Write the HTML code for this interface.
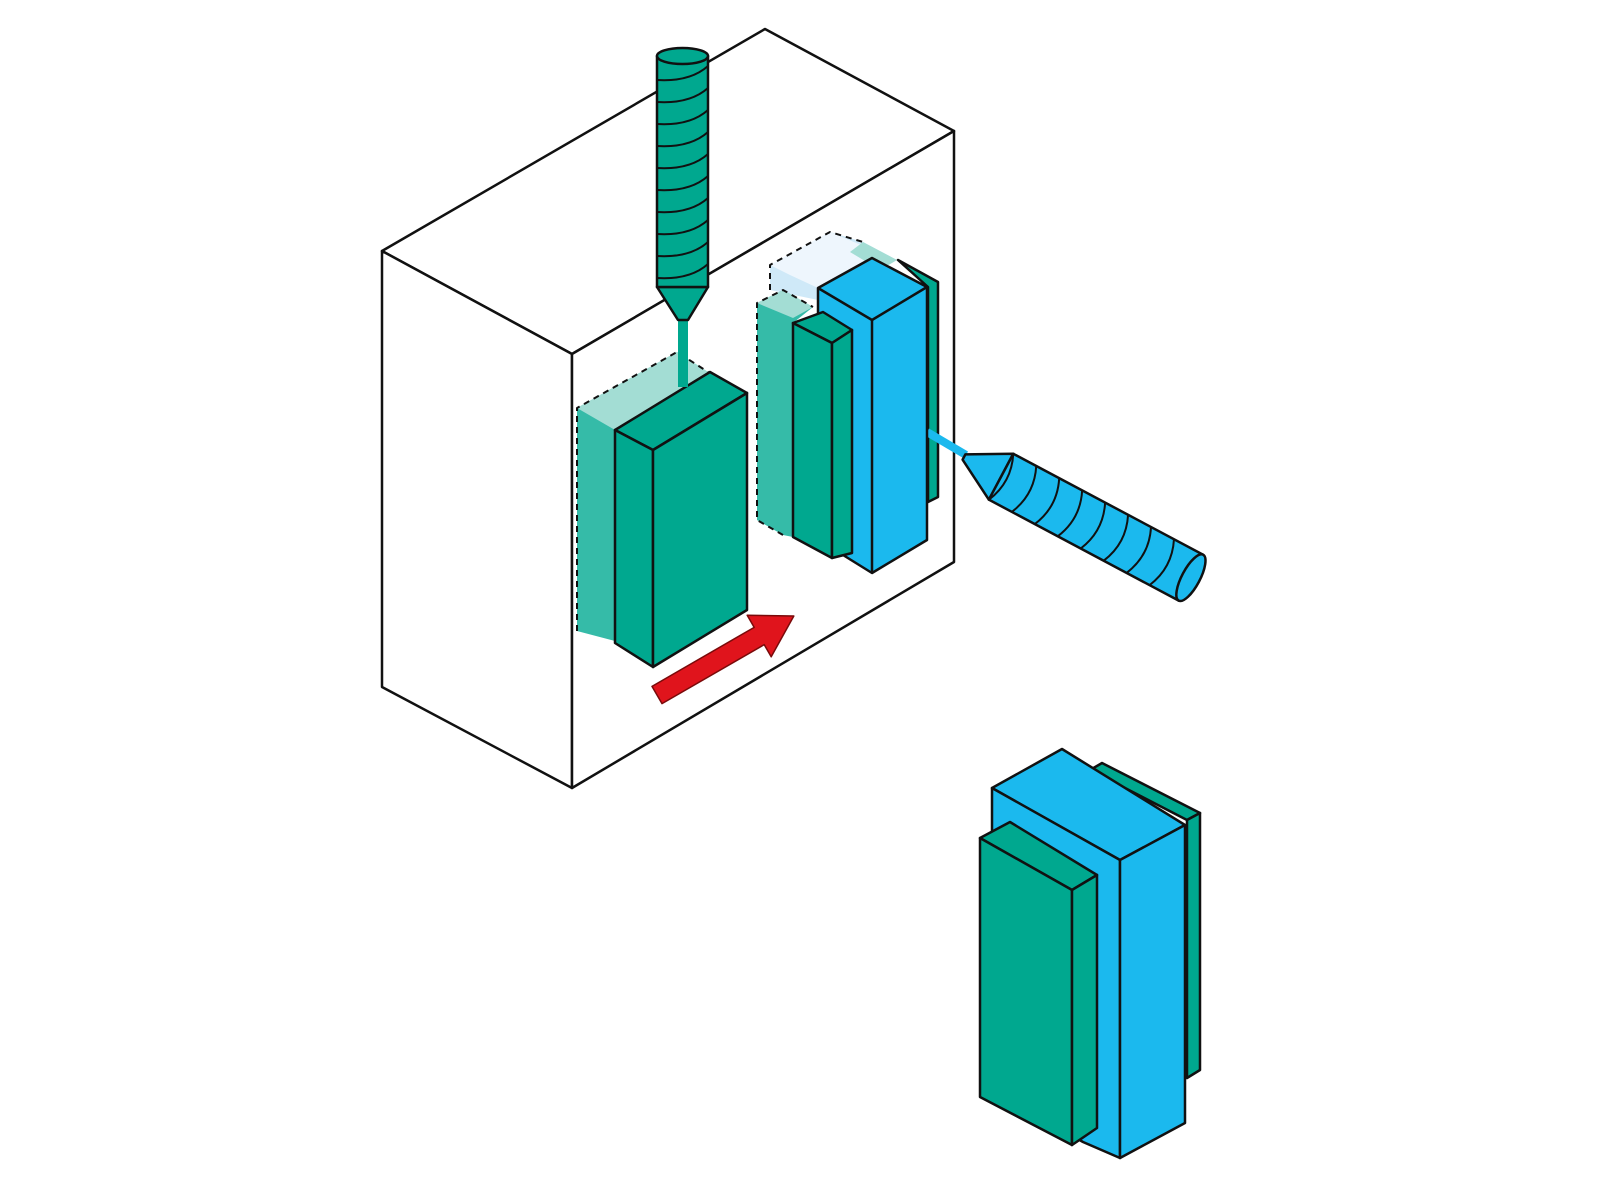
<!DOCTYPE html>
<html><head><meta charset="utf-8"><style>html,body{margin:0;padding:0;background:#fff}svg{display:block}</style></head>
<body>
<svg width="1600" height="1200" viewBox="0 0 1600 1200" xmlns="http://www.w3.org/2000/svg" stroke="#111" stroke-width="2.5" stroke-linejoin="round">
<polygon points="382,251 765,29 954,131 572,354" fill="#fff"/>
<polygon points="382,251 572,354 572,788 382,687" fill="#fff"/>
<polygon points="572,354 954,131 954,562 572,788" fill="#fff"/>

<polygon points="577,408 677,352 708,372 615,430 615,641 577,631" fill="#35bba8" stroke="none"/>
<polygon points="577,408 677,352 708,372 615,430" fill="#a3ddd4" stroke="none"/>
<polyline points="577,631 577,408 677,352 708,372" fill="none" stroke-dasharray="6,5" stroke-width="2"/>
<line x1="615" y1="430" x2="615" y2="641" stroke-width="2"/>
<polygon points="615,430 710,372 747,393 653,450" fill="#00a88f"/>
<polygon points="615,430 653,450 653,667 615,643" fill="#00a88f"/>
<polygon points="653,450 747,393 747,610 653,667" fill="#00a88f"/>

<rect x="678" y="315" width="10" height="72" fill="#00a88f" stroke="none"/>
<polygon points="657,287 708,287 688,320 678,320" fill="#00a88f"/>
<rect x="657" y="56" width="51" height="231" fill="#00a88f"/>
<ellipse cx="682.5" cy="56" rx="25.5" ry="8" fill="#00a88f"/>
<g fill="none" stroke-width="2">
<path d="M657,80 Q690,82 708,66"/><path d="M657,102 Q690,104 708,88"/><path d="M657,124 Q690,126 708,110"/>
<path d="M657,146 Q690,148 708,132"/><path d="M657,168 Q690,170 708,154"/><path d="M657,190 Q690,192 708,176"/>
<path d="M657,212 Q690,214 708,198"/><path d="M657,234 Q690,236 708,220"/><path d="M657,256 Q690,258 708,242"/>
<path d="M657,278 Q690,280 708,264"/>
</g>

<polygon points="770,265 830,232 863,242 897,260 818,290 818,300 770,290" fill="#cfe9f8" stroke="none"/>
<polygon points="770,265 830,232 897,260 818,288 790,275" fill="#eef6fd" stroke="none"/>
<polyline points="770,290 770,265 830,232 863,242" fill="none" stroke-dasharray="6,5" stroke-width="2"/>
<polygon points="863,242 897,260 880,270 850,252" fill="#a3ddd4" stroke="none"/>
<polygon points="898,260 938,282 938,497 928,502 928,287" fill="#00a88f"/>
<polygon points="757,303 783,290 813,307 793,323 793,537 783,535 757,520" fill="#35bba8" stroke="none"/>
<polygon points="757,303 783,290 813,307 793,318" fill="#a3ddd4" stroke="none"/>
<polyline points="783,535 757,520 757,303 783,290 813,307" fill="none" stroke-dasharray="6,5" stroke-width="2"/>
<line x1="927" y1="432" x2="966" y2="455" stroke="#1bb9ee" stroke-width="8"/>
<polygon points="818,288 872,258 927,287 927,540 872,573 843,555 818,545" fill="#1bb9ee"/>
<polyline points="818,288 872,320 927,287" fill="none"/>
<line x1="872" y1="320" x2="872" y2="573"/>
<polygon points="793,323 823,312 852,330 832,343" fill="#00a88f"/>
<polygon points="793,323 832,343 832,558 793,537" fill="#00a88f"/>
<polygon points="832,343 852,330 852,553 832,558" fill="#00a88f"/>

<g transform="translate(964,457) rotate(28)">
<polygon points="0,-3 42,-26 42,26 0,3" fill="#1bb9ee"/>
<rect x="42" y="-26" width="215" height="52" fill="#1bb9ee"/>
<ellipse cx="257" cy="0" rx="9" ry="26" fill="#1bb9ee"/>
<g fill="none" stroke-width="2">
<path d="M42,-26 Q54,0 42,26"/>
<path d="M68,-26 Q80,0 68,26"/><path d="M94,-26 Q106,0 94,26"/><path d="M120,-26 Q132,0 120,26"/>
<path d="M146,-26 Q158,0 146,26"/><path d="M172,-26 Q184,0 172,26"/><path d="M198,-26 Q210,0 198,26"/>
<path d="M224,-26 Q236,0 224,26"/>
</g>
</g>

<g transform="translate(657,695) rotate(-30)">
<polygon points="0,-10 118,-10 118,-24 158,0 118,24 118,10 0,10" fill="#e0141c" stroke="#7a0a0a" stroke-width="1.5"/>
</g>

<polygon points="1102,763 1200,813 1187,820 1090,770" fill="#00a88f"/>
<polygon points="1187,820 1200,813 1200,1070 1187,1078" fill="#00a88f"/>
<polygon points="992,788 1062,749 1185,825 1120,860" fill="#1bb9ee"/>
<polygon points="992,788 1120,860 1120,1158 1083,1142 992,1090" fill="#1bb9ee"/>
<polygon points="1120,860 1185,825 1185,1123 1120,1158" fill="#1bb9ee"/>
<polygon points="980,838 1010,822 1097,875 1072,890" fill="#00a88f"/>
<polygon points="980,838 1072,890 1072,1145 980,1097" fill="#00a88f"/>
<polygon points="1072,890 1097,875 1097,1128 1072,1145" fill="#00a88f"/>
</svg>
</body></html>
